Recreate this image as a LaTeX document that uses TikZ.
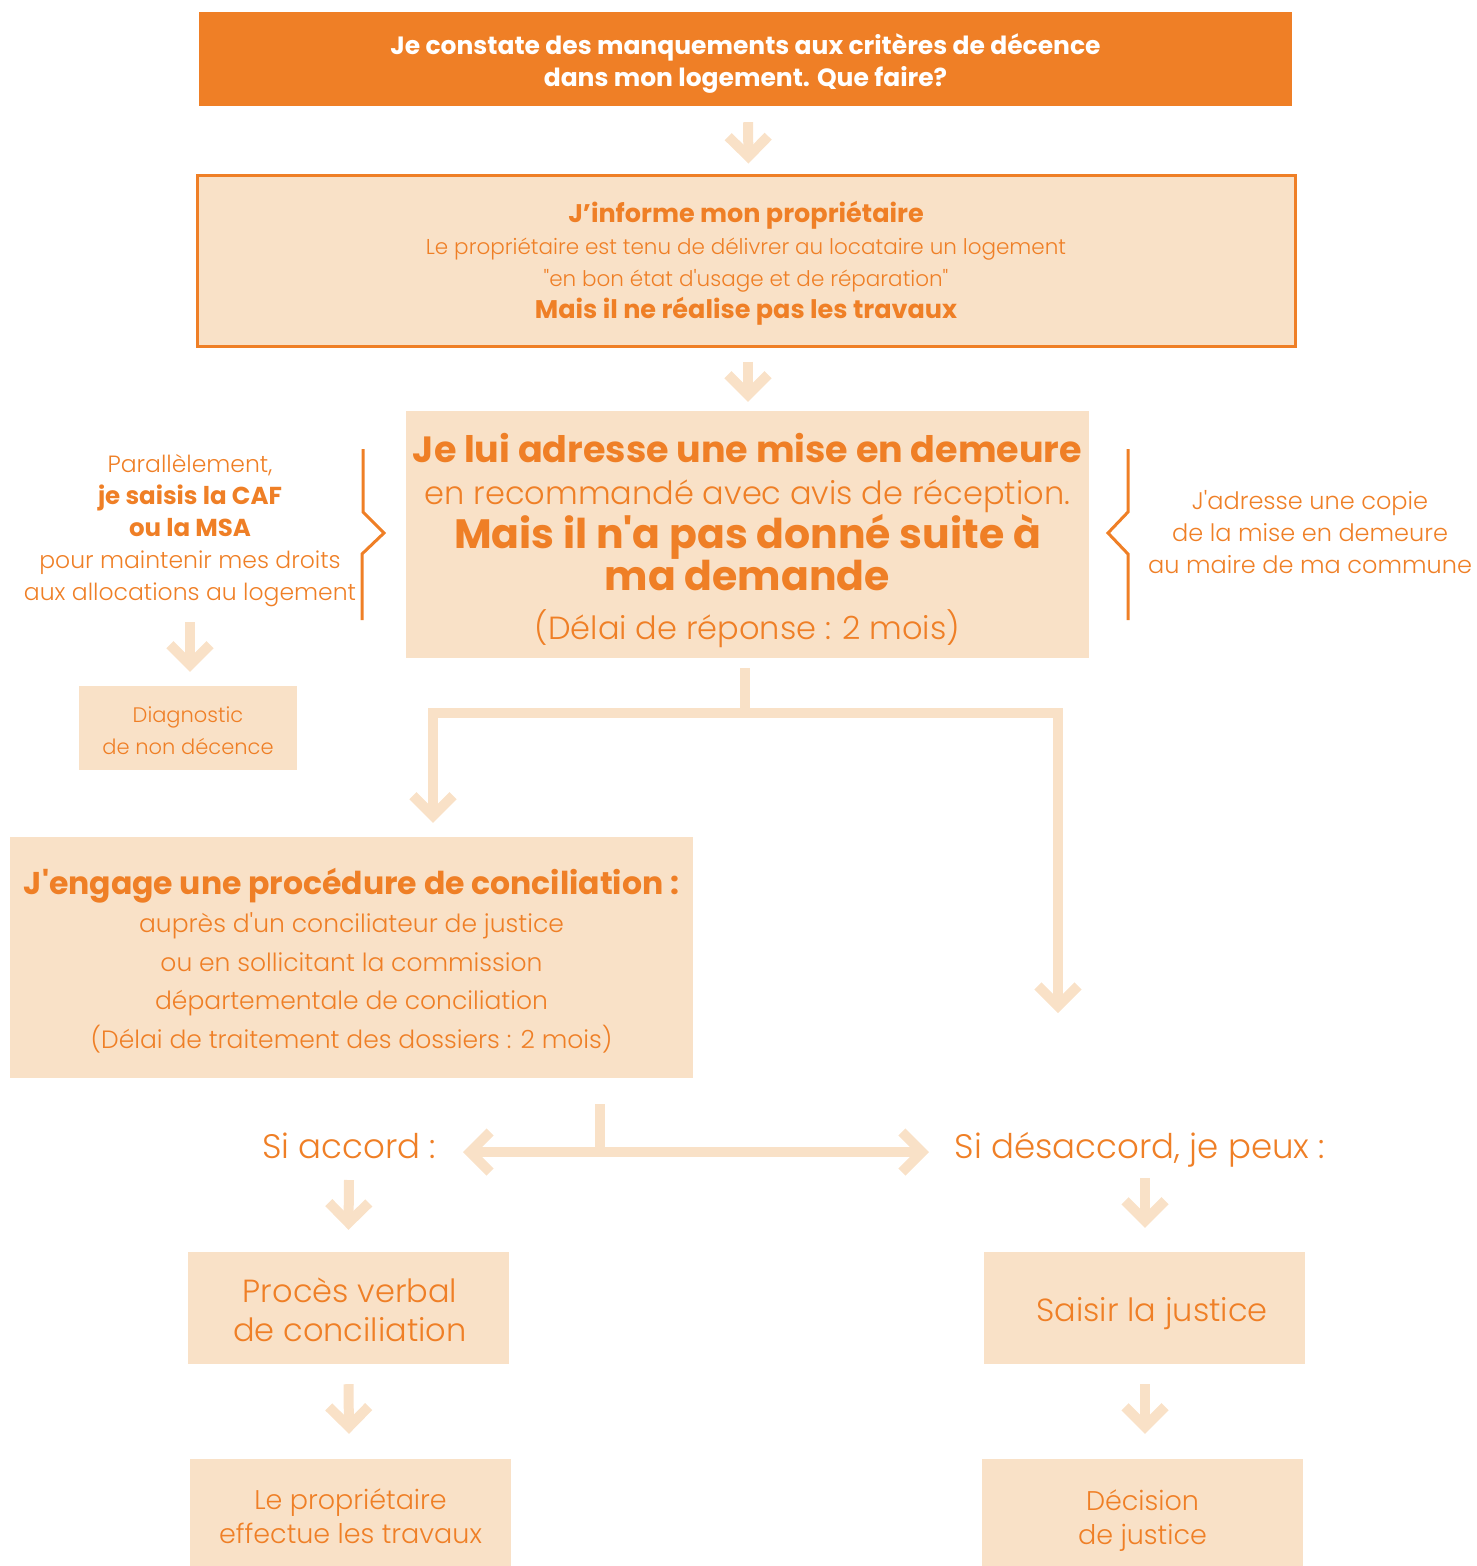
\documentclass[tikz,border=0pt]{standalone}
\usepackage{fontspec}
\setmainfont{Poppins}
\newfontfamily\lightfont{Poppins Light}
\newfontfamily\boldfont{Poppins Bold}
\usetikzlibrary{arrows.meta,calc}
\definecolor{orng}{RGB}{239,127,38}
\definecolor{peach}{RGB}{249,225,199}
\newcommand{\fs}[2]{\fontsize{#1}{#2}\selectfont}
\tikzset{
  boxpeach/.style={fill=peach, draw=none, inner sep=0pt},
  tipc/.style={-{Straight Barb[width=40pt,length=20pt,line width=10pt,line join=miter,line cap=butt]}},
  flow/.style={draw=peach, line width=10pt, line cap=butt},
  brk/.style={draw=orng, line width=3pt},
  lbl/.style={inner sep=0pt, align=center, text=orng},
}
\begin{document}
\begin{tikzpicture}[x=1pt,y=-1pt]
\useasboundingbox (0,0) rectangle (1476,1566);
% Box 1
\node[fill=orng, inner sep=0pt, minimum width=1093pt, minimum height=94pt] (b1) at (745.5,59) {};
\node[lbl, text=white, font=\boldfont\fs{25}{32}] (b1t) at (745.5,64)
  {Je constate des manquements aux critères de décence\\dans mon logement. Que faire?};
% Box 2
\node[boxpeach, draw=orng, line width=3pt, minimum width=1098pt, minimum height=171pt] (b2) at (746,260.5) {};
\node[lbl, font=\lightfont\fs{21.5}{32}] (b2t) at (746,263.5)
  {{\boldfont\fs{25.5}{32}J’informe mon propriétaire}\\
  Le propriétaire est tenu de délivrer au locataire un logement\\
  "en bon état d'usage et de réparation"\\
  {\boldfont\fs{25.5}{32}Mais il ne réalise pas les travaux}};
% Box 3
\node[boxpeach, minimum width=683pt, minimum height=247pt] (b3) at (747.5,534.5) {};
\node[lbl, font=\lightfont\fs{32}{42}] (b3t) at (747.5,540.5)
  {{\boldfont\fs{36.5}{42}Je lui adresse une mise en demeure}\\
  en recommandé avec avis de réception.\\
  {\boldfont\fs{41}{42}Mais il n'a pas donné suite à}\\
  {\boldfont\fs{41}{42}ma demande}\\[7pt]
  (Délai de réponse : 2 mois)};
% Left text
\node[lbl, font=\lightfont\fs{23.5}{32}] (lt) at (190,530.5) {Parallèlement,\\
  {\boldfont\fs{24.5}{32}je saisis la CAF}\\
  {\boldfont\fs{24.5}{32}ou la MSA}\\
  pour maintenir mes droits\\
  aux allocations au logement};
% Right text
\node[lbl, font=\lightfont\fs{24}{32}] (rt) at (1310,532) {J'adresse une copie\\de la mise en demeure\\au maire de ma commune};
% brackets
\draw[brk] (363,449) -- (363,512) -- (384,533) -- (362,554) -- (362,620);
\draw[brk] (1128,449) -- (1128,512) -- (1108,533) -- (1128,554) -- (1128,620);
% Diagnostic
\node[boxpeach, minimum width=218pt, minimum height=84pt] (diag) at (188,728) {};
\node[lbl, font=\lightfont\fs{21}{32}] (diagt) at (188,731) {Diagnostic\\de non décence};
% Conciliation
\node[boxpeach, minimum width=683pt, minimum height=241pt] (conc) at (351.5,957.5) {};
\node[lbl, font=\lightfont\fs{25}{38.5}] (conct) at (351.5,960.5)
  {{\boldfont\fs{31.5}{38.5}J'engage une procédure de conciliation :}\\
  auprès d'un conciliateur de justice\\
  ou en sollicitant la commission\\
  départementale de conciliation\\
  (Délai de traitement des dossiers : 2 mois)};
% Si accord / desaccord
\node[lbl, font=\lightfont\fs{34}{40}] (acc) at (349,1146) {Si accord :};
\node[lbl, font=\lightfont\fs{34}{40}] (desacc) at (1140,1150) {Si désaccord, je peux :};
% Bottom boxes
\node[boxpeach, minimum width=321pt, minimum height=112pt] (pv) at (348.5,1308) {};
\node[lbl, font=\lightfont\fs{32}{39}] (pvt) at (350,1310) {Procès verbal\\de conciliation};
\node[boxpeach, minimum width=321pt, minimum height=112pt] (saisir) at (1144.5,1308) {};
\node[lbl, font=\lightfont\fs{32}{39}] (saisirt) at (1152,1314) {Saisir la justice};
\node[boxpeach, minimum width=321pt, minimum height=107pt] (proprio) at (350.5,1512.5) {};
\node[lbl, font=\lightfont\fs{27}{34}] (propriot) at (350.5,1516.5) {Le propriétaire\\effectue les travaux};
\node[boxpeach, minimum width=321pt, minimum height=107pt] (dec) at (1142.5,1512.5) {};
\node[lbl, font=\lightfont\fs{27}{34}] (dect) at (1142.5,1520.5) {Décision\\de justice};
% coordinates for connectors
\coordinate (sp1) at (745,713);
\coordinate (sl) at (433,713);
\coordinate (sr) at (1058,713);
\coordinate (rend) at (1058,1013);
\coordinate (sp2) at (600,1152);
\coordinate (cl) at (463,1152);
\coordinate (cr) at (929,1152);
% connectors
\draw[flow,tipc] ([xshift=2.5pt]b1.south) ++(0,16) -- ($([xshift=2.5pt]b2.north)+(0,-10)$);
\draw[flow,tipc] ([xshift=2pt]b2.south) ++(0,14) -- ($([xshift=0.5pt]b3.north)+(0,-9)$);
\draw[flow,tipc] (190,622) -- ($(diag.north)+(2,-14)$);
\draw[flow] ([xshift=-2.5pt]b3.south) ++(0,10) -- (sp1);
\draw[flow] ($(sl)+(-5,0)$) -- ($(sr)+(5,0)$);
\draw[flow,tipc] ($(sl)+(0,-5)$) -- ($(sl|-conc.north)+(0,-14)$);
\draw[flow,tipc] ($(sr)+(0,-5)$) -- (rend);
\draw[flow] ($(conc.south)+(248.5,26)$) -- (sp2);
\draw[flow,tipc] (sp2) -- (cl);
\draw[flow,tipc] (sp2) -- (cr);
\draw[flow,tipc] (349,1180) -- ($(pv.north)+(0,-22)$);
\draw[flow,tipc] ($(pv.south)+(0,20)$) -- ($(proprio.north)+(-1.5,-25)$);
\draw[flow,tipc] (1145,1178) -- ($(saisir.north)+(0.5,-24)$);
\draw[flow,tipc] ($(saisir.south)+(0.5,20)$) -- ($(dec.north)+(2.5,-25)$);
\end{tikzpicture}
\end{document}
